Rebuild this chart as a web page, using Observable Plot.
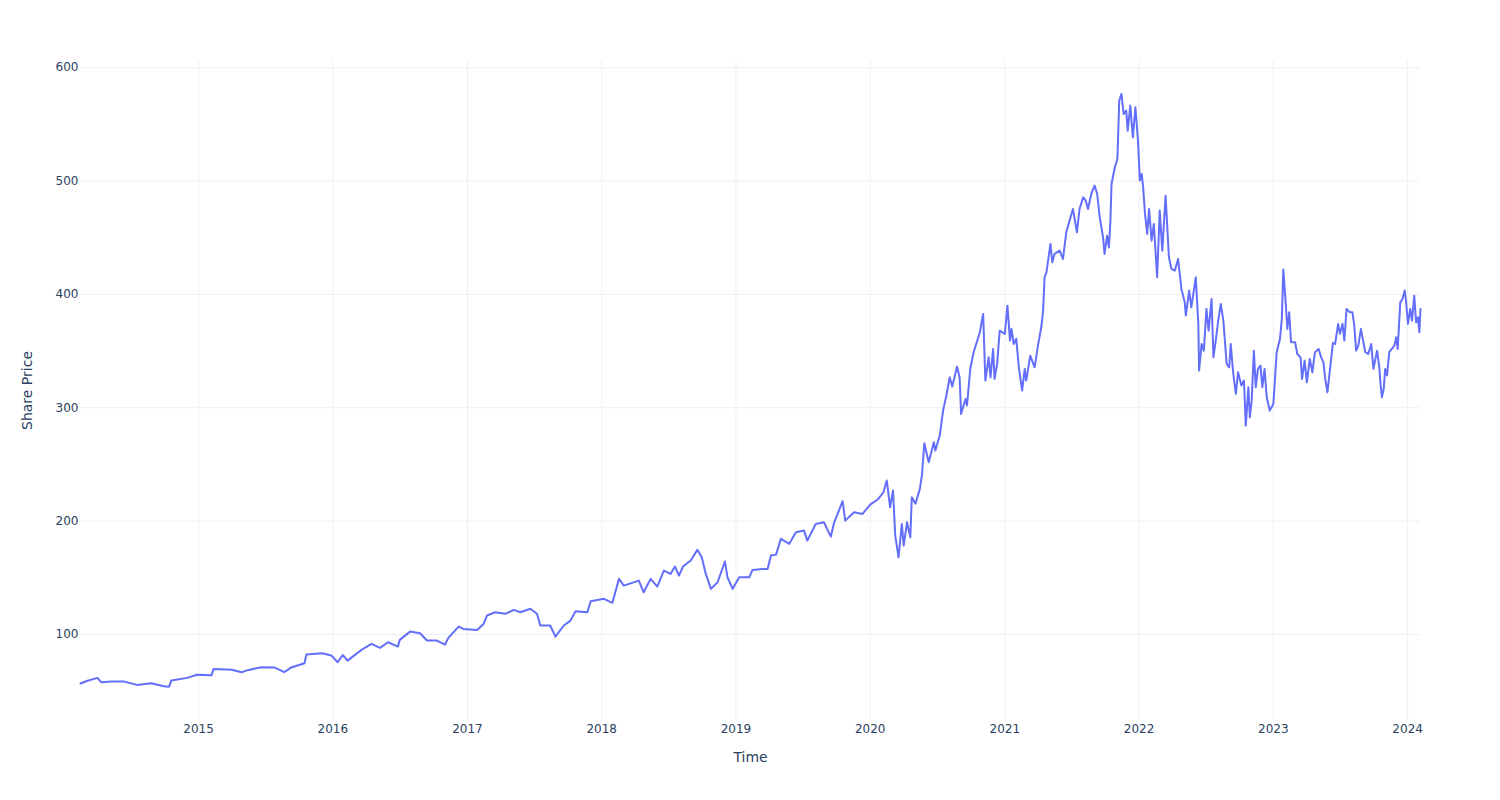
<!DOCTYPE html>
<html>
<head>
<meta charset="utf-8">
<script src="https://cdn.jsdelivr.net/npm/d3@7"></script>
<script src="https://cdn.jsdelivr.net/npm/@observablehq/plot@0.6"></script>
<style>
  html, body { margin: 0; padding: 0; background: #fff; }
  #chart { width: 1500px; height: 800px; }
</style>
</head>
<body>
<div id="chart"></div>
<script>
const dates = [
"2014-02-14","2014-03-03","2014-04-01","2014-04-11","2014-05-10","2014-06-13","2014-07-18","2014-08-25","2014-09-29","2014-10-13","2014-10-19","2014-12-01","2014-12-28",
"2015-02-05","2015-02-11","2015-04-01","2015-04-28","2015-05-14","2015-06-21","2015-07-26","2015-08-22","2015-09-10","2015-10-16","2015-10-21","2015-12-03","2015-12-28",
"2016-01-14","2016-01-28","2016-02-10","2016-03-19","2016-04-15","2016-05-08","2016-05-30","2016-06-26","2016-07-01","2016-07-29","2016-08-25","2016-09-13","2016-10-10","2016-11-01","2016-11-10","2016-12-08","2016-12-21",
"2017-01-27","2017-02-14","2017-02-23","2017-03-17","2017-04-14","2017-05-07","2017-05-25","2017-06-21","2017-07-09","2017-07-18","2017-08-14","2017-08-28","2017-09-20","2017-10-08","2017-10-22","2017-11-23","2017-12-02",
"2018-01-07","2018-01-30","2018-02-17","2018-03-02","2018-04-12","2018-04-25","2018-05-14","2018-06-01","2018-06-19","2018-07-07","2018-07-19","2018-07-30","2018-08-10","2018-08-31","2018-09-18","2018-09-30","2018-10-11","2018-10-25","2018-11-12","2018-12-02","2018-12-09","2018-12-23",
"2019-01-10","2019-02-06","2019-02-15","2019-03-14","2019-03-28","2019-04-06","2019-04-20","2019-05-03","2019-05-26","2019-06-13","2019-07-05","2019-07-14","2019-08-06","2019-08-28","2019-09-16","2019-09-25","2019-10-18","2019-10-25","2019-11-18","2019-12-11",
"2020-01-01","2020-01-23","2020-02-06","2020-02-15","2020-02-24","2020-03-03","2020-03-09","2020-03-18","2020-03-27","2020-04-01","2020-04-10","2020-04-19","2020-04-23","2020-05-03","2020-05-15","2020-05-21","2020-05-27","2020-06-08","2020-06-22","2020-06-26","2020-07-08","2020-07-17","2020-07-26","2020-08-04","2020-08-11","2020-08-24","2020-08-31","2020-09-04","2020-09-16","2020-09-20","2020-09-29","2020-10-08","2020-10-18","2020-10-25","2020-11-03","2020-11-09","2020-11-18","2020-11-23","2020-11-30","2020-12-04","2020-12-11","2020-12-18",
"2021-01-01","2021-01-08","2021-01-15","2021-01-19","2021-01-25","2021-02-01","2021-02-08","2021-02-17","2021-02-24","2021-02-28","2021-03-11","2021-03-23","2021-04-01","2021-04-10","2021-04-15","2021-04-19","2021-04-24","2021-05-05","2021-05-10","2021-05-16","2021-05-30","2021-06-08","2021-06-17","2021-06-26","2021-07-05","2021-07-16","2021-07-23","2021-08-02","2021-08-09","2021-08-15","2021-08-24","2021-09-02","2021-09-09","2021-09-16","2021-09-25","2021-09-29","2021-10-06","2021-10-11","2021-10-15","2021-10-18","2021-10-27","2021-11-03","2021-11-08","2021-11-14","2021-11-20","2021-11-27","2021-12-01","2021-12-08","2021-12-15","2021-12-22","2021-12-29",
"2022-01-03","2022-01-08","2022-01-12","2022-01-17","2022-01-23","2022-01-28","2022-02-04","2022-02-10","2022-02-19","2022-02-26","2022-03-05","2022-03-14","2022-03-23","2022-03-30","2022-04-08","2022-04-17","2022-04-26","2022-05-05","2022-05-08","2022-05-17","2022-05-23","2022-06-04","2022-06-11","2022-06-13","2022-06-20","2022-06-26","2022-07-03","2022-07-09","2022-07-17","2022-07-22","2022-07-29","2022-08-04","2022-08-11","2022-08-18","2022-08-27","2022-09-03","2022-09-07","2022-09-14","2022-09-21","2022-09-27","2022-10-06","2022-10-13","2022-10-18","2022-10-25","2022-10-29","2022-11-03","2022-11-09","2022-11-14","2022-11-20","2022-11-27","2022-12-02","2022-12-08","2022-12-14","2022-12-22",
"2023-01-01","2023-01-10","2023-01-19","2023-01-24","2023-01-28","2023-02-04","2023-02-08","2023-02-13","2023-02-18","2023-03-01","2023-03-07","2023-03-16","2023-03-20","2023-03-27","2023-04-02","2023-04-10","2023-04-17","2023-04-24","2023-05-04","2023-05-11","2023-05-17","2023-05-22","2023-05-28","2023-06-05","2023-06-12","2023-06-18","2023-06-26","2023-07-01","2023-07-08","2023-07-13","2023-07-19","2023-07-28","2023-08-04","2023-08-09","2023-08-14","2023-08-20","2023-08-27","2023-09-01","2023-09-08","2023-09-16","2023-09-24","2023-09-30","2023-10-10","2023-10-16","2023-10-19","2023-10-23","2023-10-28","2023-11-01","2023-11-06","2023-11-12","2023-11-19","2023-11-26","2023-12-01","2023-12-05","2023-12-12","2023-12-18","2023-12-24","2023-12-27",
"2024-01-02","2024-01-08","2024-01-13","2024-01-19","2024-01-24","2024-01-29","2024-02-02","2024-02-05"
];
const prices = [
56.8,59,61.8,58,58.5,58.5,55.6,57,54.4,54,59.4,61.8,64.5,
64,69.7,69,66.8,68.6,71.2,71,66.8,71,74.7,82.4,83.5,81.5,
75.6,82,77,86.5,91.8,88.3,93.2,89.4,95.3,102.6,101.1,94.7,94.7,91.2,97.1,107,105,
104.1,109.4,116.8,119.7,118.3,121.8,119.7,122.7,118.3,108,108,98.2,108,112.3,120.6,119.7,129.4,
131.5,128,149.1,143.2,147.6,137.3,149.1,142.3,156.4,153.5,160,152,160,165.3,174.7,168.2,153.5,140.3,146.1,164.4,150.5,140.3,
150.5,150.5,157,157.9,157.9,169.7,170.5,184.4,180,190.2,191.7,182.9,197.6,199,186.4,199,217.6,200.5,207.8,206.4,
214.6,219.6,225.5,235.8,212.3,227,187.3,168.2,197.6,178.5,199,185.8,221.1,215.3,228.5,241.7,268.7,251.9,269.6,262.3,275.5,297.5,310.8,326.9,318.7,336.3,326.9,294.6,307.8,302,334.3,349,359.3,366.6,382.8,324,344.5,326.9,351.9,325.5,338.7,368,
365.2,390.1,359.3,369.6,356.3,360.8,335.7,315.2,334.3,324,346,335.7,354.8,371,385.7,415.1,419.5,444.5,428.3,435.7,438.6,431.3,454.8,465.1,475.4,454.8,475.4,485.6,482.7,475.4,488.6,496,488.6,468,450.3,435.7,451.8,441.5,465.1,497.4,512.1,519.5,570.9,576.8,559.2,562.1,544.4,566.5,538.5,565,535.6,
500.4,506.3,494.4,471,453.4,475.4,447.4,462.2,415.1,473.9,438.6,487.1,432.7,422.5,421,431.3,404.8,393,381.3,403.4,388.6,415.1,374,332.8,356.3,350.4,387.2,368,396,344.5,360.8,376.9,391.6,376.9,338.7,335.7,356.3,329.9,312.3,331.3,319.6,324,284.3,318.1,291.6,306.3,350.4,318.1,334.3,337.2,318.1,334.3,309.3,297.5,
303.4,349,360.8,378.4,421.9,390.1,369.6,384.2,357.8,357.8,347.5,344.5,325.5,341.6,322.5,343.1,331.3,349,351.9,344.5,340.1,325.5,313.7,337.2,357.2,356.3,374,365.2,374,359.3,387.2,384.2,384.2,372.5,350.4,354.8,369.6,360.8,349,347.5,356.3,334.3,350.4,335.7,322.5,309.3,316.7,334.3,328.4,349,351.9,354.8,362.2,351.9,393,396,403.4,396,
374,387.2,376.9,398.9,375.4,379.8,366.6,387.2
];
const xTickYears = [2015, 2016, 2017, 2018, 2019, 2020, 2021, 2022, 2023, 2024];
const yTickValues = [100, 200, 300, 400, 500, 600];
const xTitle = "Time";
const yTitle = "Share Price";

const data = dates.map((d, i) => ({date: new Date(d + "T00:00:00Z"), price: prices[i]}));
const xTicks = xTickYears.map(y => new Date(Date.UTC(y, 0, 1)));

const ink = "#2a3f5f";
const grid = "#ebf0f8";

const chart = Plot.plot({
  width: 1500,
  height: 800,
  marginTop: 60,
  marginBottom: 80,
  marginLeft: 80,
  marginRight: 80,
  style: {fontFamily: "'DejaVu Sans', sans-serif", fontSize: "12px", color: ink, background: "#fff", overflow: "visible"},
  x: {type: "utc", domain: [data[0].date, data[data.length - 1].date]},
  y: {domain: [24.2, 606.3]},
  marks: [
    Plot.gridX(xTicks, {stroke: grid, strokeOpacity: 1, strokeWidth: 1}),
    Plot.gridY(yTickValues, {stroke: grid, strokeOpacity: 1, strokeWidth: 1}),
    Plot.axisX(xTicks, {tickSize: 0, tickPadding: 4, tickFormat: d3.utcFormat("%Y"), label: null, fill: ink}),
    Plot.axisY(yTickValues, {tickSize: 0, tickPadding: 2, label: null, fill: ink}),
    Plot.line(data, {x: "date", y: "price", stroke: "#636efa", strokeWidth: 2, strokeLinejoin: "round"}),
    Plot.text([xTitle], {text: d => d, frameAnchor: "bottom", textAnchor: "middle", dy: 41, fontSize: 14, fill: ink}),
    Plot.text([yTitle], {text: d => d, frameAnchor: "left", textAnchor: "middle", dx: -53, rotate: -90, fontSize: 14, fill: ink})
  ]
});
document.getElementById("chart").appendChild(chart);
</script>
</body>
</html>
